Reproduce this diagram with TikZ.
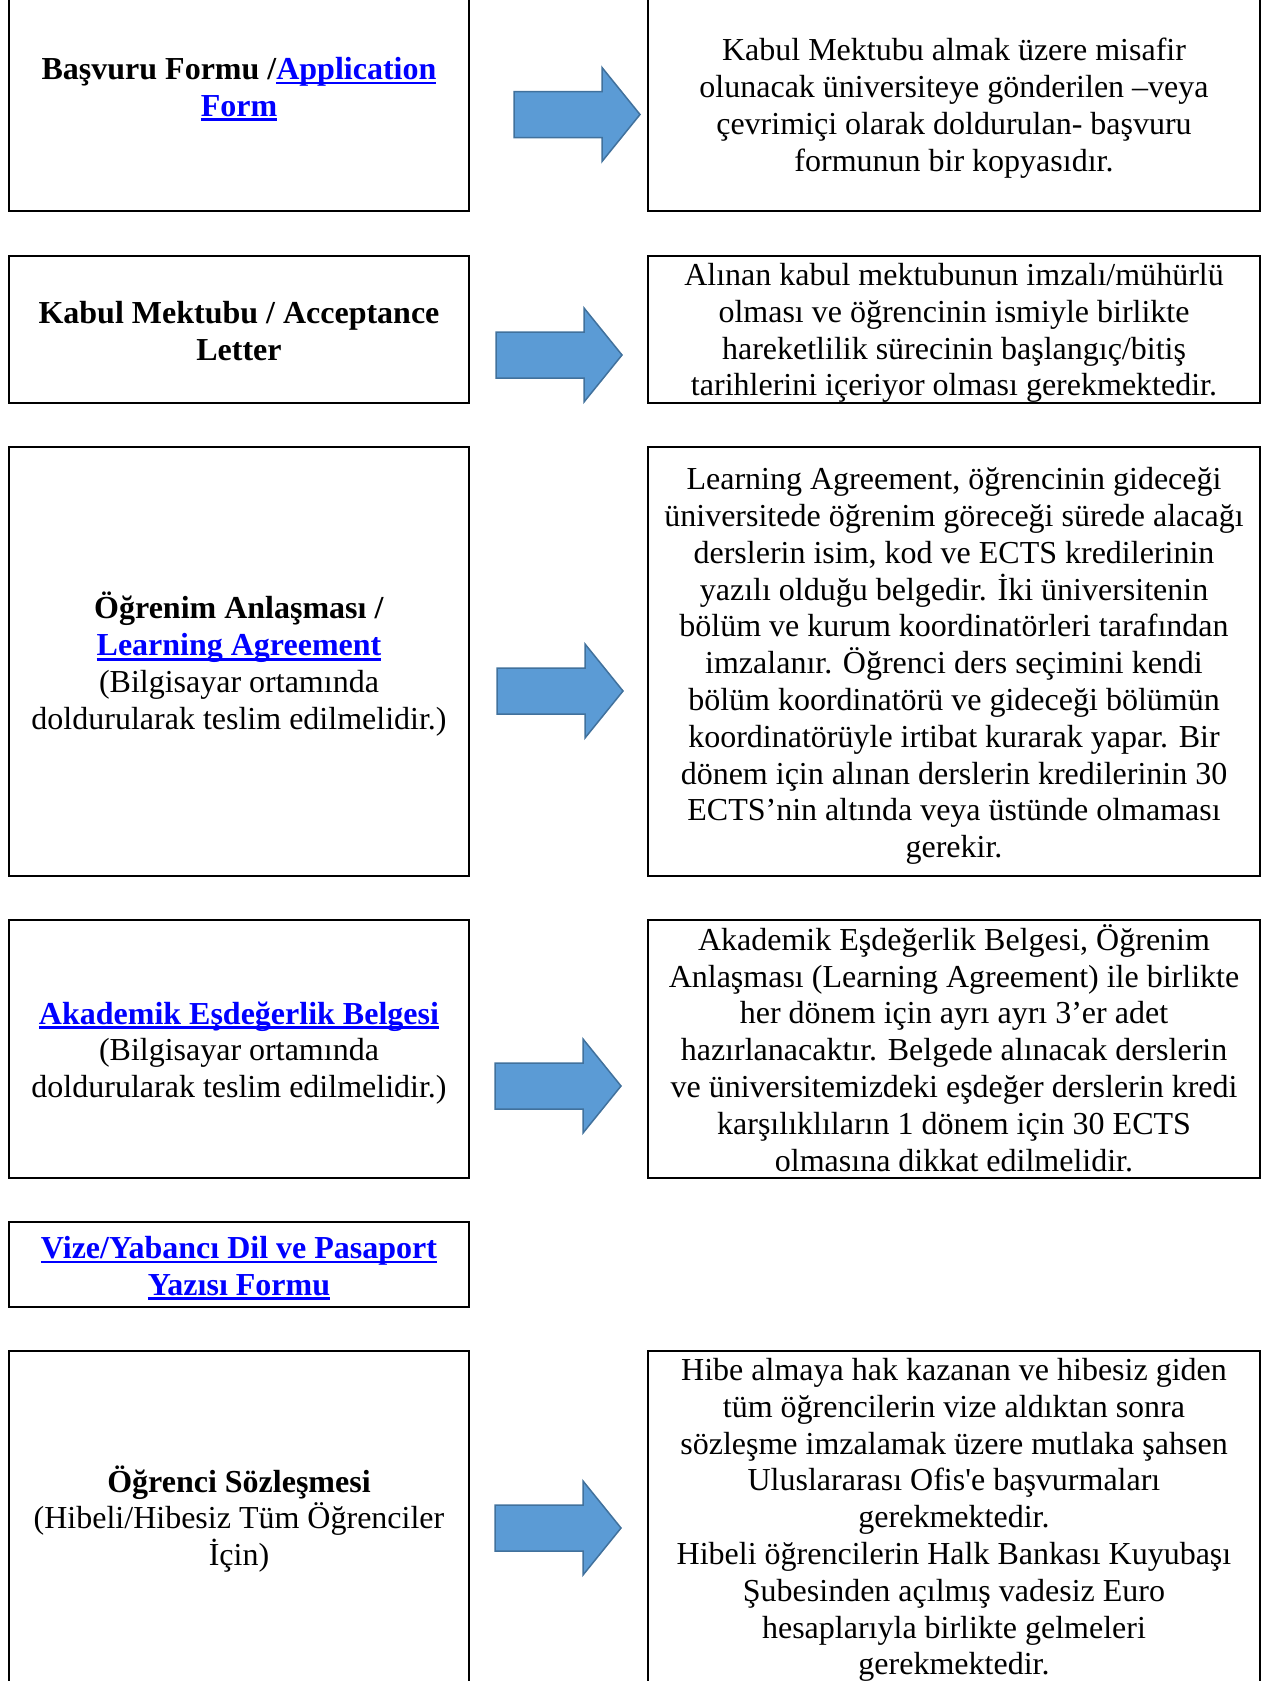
\documentclass[tikz,border=0pt]{standalone}
\usepackage{fontspec}
\setmainfont{Liberation Serif}[Ligatures=TeXOff]
\usetikzlibrary{fit}
\definecolor{linkblue}{HTML}{0000FF}
\definecolor{arrfill}{HTML}{5B9BD5}
\definecolor{arrdraw}{HTML}{41719C}
\newsavebox\lnkbox
\newcommand{\lnk}[1]{\sbox\lnkbox{\color{linkblue}#1}\usebox\lnkbox\llap{\textcolor{linkblue}{\rule[-5pt]{\wd\lnkbox}{2.6pt}}}}
\tikzset{
  box/.style={draw, line width=1.8pt, inner sep=0pt},
  txt/.style={align=center, font=\fontsize{32}{36.8}\selectfont, inner sep=0pt},
  arrowstyle/.style={fill=arrfill, draw=arrdraw, line width=1.5pt, line join=miter},
  pics/blockarrow/.style={code={\draw[arrowstyle] (0,-23) -- (88,-23) -- (88,-47) -- (126,0) -- (88,47) -- (88,23) -- (0,23) -- cycle;}}
}
\begin{document}
\begin{tikzpicture}[x=1pt,y=-1pt]
\useasboundingbox (0,0) rectangle (1277,1681);
% boxes
\node[box, fit={(9,-20) (469,211)}] (b1l) {};
\node[box, fit={(648,-20) (1260,211)}] (b1r) {};
\node[box, fit={(9,256) (469,403)}] (b2l) {};
\node[box, fit={(648,256) (1260,403)}] (b2r) {};
\node[box, fit={(9,447) (469,876)}] (b3l) {};
\node[box, fit={(648,447) (1260,876)}] (b3r) {};
\node[box, fit={(9,920) (469,1178)}] (b4l) {};
\node[box, fit={(648,920) (1260,1178)}] (b4r) {};
\node[box, fit={(9,1222) (469,1307)}] (b5l) {};
\node[box, fit={(9,1351) (469,1700)}] (b6l) {};
\node[box, fit={(648,1351) (1260,1700)}] (b6r) {};
% texts
\node[txt] (t1l) at (239,89) {\textbf{Başvuru Formu /\lnk{Application}}\\\textbf{\lnk{Form}}};
\node[txt] (t1r) at (954,108) {Kabul Mektubu almak üzere misafir\\olunacak üniversiteye gönderilen –veya\\çevrimiçi olarak doldurulan- başvuru\\formunun bir kopyasıdır.};
\node[txt] (t2l) at (239,331) {\textbf{Kabul Mektubu / Acceptance}\\\textbf{Letter}};
\node[txt] (t2r) at (954,333) {Alınan kabul mektubunun imzalı/mühürlü\\olması ve öğrencinin ismiyle birlikte\\hareketlilik sürecinin başlangıç/bitiş\\tarihlerini içeriyor olması gerekmektedir.};
\node[txt] (t3l) at (239,664) {\textbf{Öğrenim Anlaşması /}\\\textbf{\lnk{Learning Agreement}}\\(Bilgisayar ortamında\\doldurularak teslim edilmelidir.)};
\node[txt] (t3r) at (954,666) {Learning Agreement, öğrencinin gideceği\\üniversitede öğrenim göreceği sürede alacağı\\derslerin isim, kod ve ECTS kredilerinin\\yazılı olduğu belgedir. İki üniversitenin\\bölüm ve kurum koordinatörleri tarafından\\imzalanır. Öğrenci ders seçimini kendi\\bölüm koordinatörü ve gideceği bölümün\\koordinatörüyle irtibat kurarak yapar. Bir\\dönem için alınan derslerin kredilerinin 30\\ECTS’nin altında veya üstünde olmaması\\gerekir.};
\node[txt] (t4l) at (239,1053) {\textbf{\lnk{Akademik Eşdeğerlik Belgesi}}\\(Bilgisayar ortamında\\doldurularak teslim edilmelidir.)};
\node[txt] (t4r) at (954,1048) {Akademik Eşdeğerlik Belgesi, Öğrenim\\Anlaşması (Learning Agreement) ile birlikte\\her dönem için ayrı ayrı 3’er adet\\hazırlanacaktır. Belgede alınacak derslerin\\ve üniversitemizdeki eşdeğer derslerin kredi\\karşılıklıların 1 dönem için 30 ECTS\\olmasına dikkat edilmelidir.};
\node[txt] (t5l) at (239,1268) {\textbf{\lnk{Vize/Yabancı Dil ve Pasaport}}\\\textbf{\lnk{Yazısı Formu}}};
\node[txt] (t6l) at (239,1519) {\textbf{Öğrenci Sözleşmesi}\\(Hibeli/Hibesiz Tüm Öğrenciler\\İçin)};
\node[txt] (t6r) at (954,1520) {Hibe almaya hak kazanan ve hibesiz giden\\tüm öğrencilerin vize aldıktan sonra\\sözleşme imzalamak üzere mutlaka şahsen\\Uluslararası Ofis'e başvurmaları\\gerekmektedir.\\Hibeli öğrencilerin Halk Bankası Kuyubaşı\\Şubesinden açılmış vadesiz Euro\\hesaplarıyla birlikte gelmeleri\\gerekmektedir.};
% arrows
\pic (a1) at (514,114.5) {blockarrow};
\pic (a2) at (496,355) {blockarrow};
\pic (a3) at (497,691) {blockarrow};
\pic (a4) at (495,1086) {blockarrow};
\pic (a6) at (495,1528) {blockarrow};
\end{tikzpicture}
\end{document}
